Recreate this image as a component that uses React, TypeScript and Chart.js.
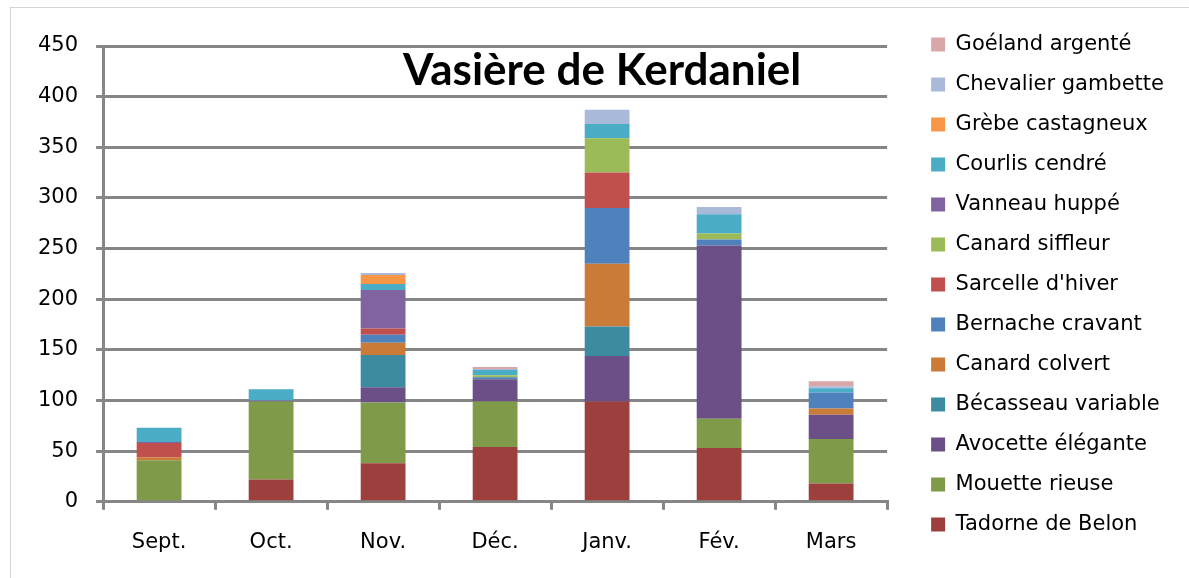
import React, { useEffect, useRef } from "react";
import { Chart, registerables } from "chart.js";

Chart.register(...registerables);

// Categories (months)
const months = ["Sept.", "Oct.", "Nov.", "Déc.", "Janv.", "Fév.", "Mars"];

// Series values (bottom of the stack first)
const tadorne = [0, 22, 38, 54, 99, 53, 18];
const mouette = [41, 77, 60, 45, 0, 29, 44];
const avocette = [0, 0, 15, 22, 45, 171, 24];
const becasseau = [0, 0, 32, 0, 29, 0, 0];
const colvert = [3, 0, 12, 0, 62, 0, 6];
const bernache = [0, 0, 8, 2, 55, 6, 16];
const sarcelle = [14, 0, 6, 0, 35, 0, 0];
const siffleur = [0, 0, 0, 2, 34, 6, 0];
const vanneau = [1, 1, 38, 0, 0, 0, 0];
const courlis = [14, 11, 6, 5, 14, 19, 4];
const grebe = [0, 0, 9, 0, 0, 0, 0];
const chevalier = [0, 0, 2, 1, 14, 7, 2];
const goeland = [0, 0, 0, 2, 0, 0, 5];

const speciesNames = [
  "Tadorne de Belon",
  "Mouette rieuse",
  "Avocette élégante",
  "Bécasseau variable",
  "Canard colvert",
  "Bernache cravant",
  "Sarcelle d'hiver",
  "Canard siffleur",
  "Vanneau huppé",
  "Courlis cendré",
  "Grèbe castagneux",
  "Chevalier gambette",
  "Goéland argenté",
];

const speciesColors = [
  "#9D403D",
  "#7F9A48",
  "#6A5087",
  "#3C8BA0",
  "#CB7B38",
  "#4F81BD",
  "#C0504D",
  "#9BBB59",
  "#8064A2",
  "#4BACC6",
  "#F79646",
  "#A9B9D9",
  "#D9A7A7",
];

// Y axis tick range
const yMin = 0;
const yMax = 450;
const yStep = 50;

const chartTitle = "Vasière de Kerdaniel";

// shifts the (right-hand) legend a little away from the plot area
const legendOffset = {
  id: "legendOffset",
  afterLayout(chart: any, _args: any, opts: any) {
    const s = (opts && opts.shift) || 0;
    if (chart.legend) {
      chart.legend.left += s;
      chart.legend.right += s;
    }
  },
};

export default function App() {
  const ref = useRef<HTMLCanvasElement | null>(null);

  useEffect(() => {
    const series = [
      tadorne, mouette, avocette, becasseau, colvert, bernache, sarcelle,
      siffleur, vanneau, courlis, grebe, chevalier, goeland,
    ];
    const font = { family: "'DejaVu Sans', sans-serif", size: 21 };
    const gridColor = "#868686";
    const chart = new Chart(ref.current as HTMLCanvasElement, {
      type: "bar",
      data: {
        labels: months,
        datasets: series.map((d, i) => ({
          label: speciesNames[i],
          data: d,
          backgroundColor: speciesColors[i],
          borderWidth: 0,
          barPercentage: 0.4,
          categoryPercentage: 1,
        })),
      },
      plugins: [legendOffset],
      options: {
        responsive: false,
        animation: false,
        layout: { padding: { left: 20, right: 40, top: 15, bottom: 3 } },
        plugins: {
          tooltip: { enabled: false },
          legendOffset: { shift: 25 },
          title: {
            display: true,
            text: "",
            fullSize: false,
            position: "top",
            padding: 0,
            font: { size: 31, lineHeight: 1 },
          },
          legend: {
            display: true,
            position: "right",
            align: "start",
            reverse: true,
            labels: {
              boxWidth: 14,
              boxHeight: 14,
              padding: 19,
              color: "#000",
              font,
            },
          },
        },
        scales: {
          x: {
            stacked: true,
            grid: {
              display: true,
              drawOnChartArea: false,
              drawTicks: true,
              tickLength: 8,
              color: gridColor,
              lineWidth: 3,
              offset: true,
            },
            border: { display: true, color: gridColor, width: 3 },
            ticks: { color: "#000", font, padding: 20 },
          },
          y: {
            stacked: true,
            position: "left",
            min: yMin,
            max: yMax,
            grid: {
              color: gridColor,
              lineWidth: 3,
              drawTicks: true,
              tickLength: 7,
            },
            border: { display: true, color: gridColor, width: 3 },
            ticks: { stepSize: yStep, color: "#000", font, padding: 18 },
          },
        },
      },
    } as any);
    return () => chart.destroy();
  }, []);

  return (
    <div
      style={{
        position: "absolute",
        left: 0,
        top: 0,
        width: 1189,
        height: 578,
        overflow: "hidden",
        background: "#fff",
      }}
    >
      <div
        style={{
          position: "absolute",
          left: 10,
          top: 7,
          width: 1200,
          height: 600,
          borderLeft: "1px solid #d4d4d4",
          borderTop: "1px solid #d4d4d4",
        }}
      />
      <canvas
        ref={ref}
        width={1189}
        height={578}
        style={{ position: "absolute", left: 0, top: 0 }}
      />
      <div
        style={{
          position: "absolute",
          left: 403,
          top: 46,
          font: "bold 44px Lato, sans-serif",
          lineHeight: 1,
          color: "#000",
          whiteSpace: "nowrap",
        }}
      >
        {chartTitle}
      </div>
    </div>
  );
}
